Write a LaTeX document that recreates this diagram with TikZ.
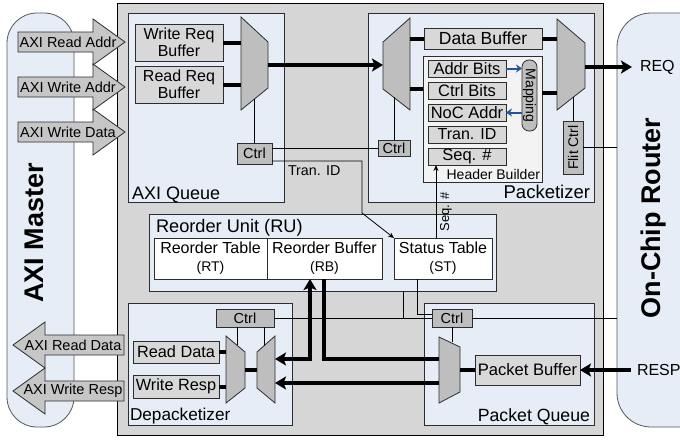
\documentclass[tikz,border=0pt]{standalone}
\usepackage{fontspec}
\setmainfont{Liberation Sans}
\usetikzlibrary{arrows.meta}
\definecolor{panel}{RGB}{230,237,247}
\definecolor{outerg}{RGB}{214,214,214}
\definecolor{boxg}{RGB}{216,216,216}
\definecolor{muxg}{RGB}{190,190,190}
\definecolor{arrg}{RGB}{198,198,198}
\definecolor{edgec}{RGB}{45,45,45}
\definecolor{hbg}{RGB}{243,243,243}
\definecolor{mapblue}{RGB}{35,85,155}
\newcommand\tsz[1]{\fontsize{#1}{#1}\selectfont}
\begin{document}
\begin{tikzpicture}[x=1pt,y=-1pt,
  every node/.style={inner sep=0pt,outer sep=0pt},
  blk/.style={draw=edgec,line width=0.8pt,anchor=north west,align=center},
  panelbox/.style={blk,fill=panel},
  gbox/.style={blk,fill=boxg},
  cbox/.style={blk,fill=muxg},
  wbox/.style={blk,fill=white},
  muxs/.style={draw=edgec,line width=0.8pt,fill=muxg},
  barrow/.style={draw=edgec,line width=0.8pt,fill=arrg},
  wire/.style={draw=black,line width=0.8pt},
  bus/.style={draw=black,line width=4pt},
  bustip/.style={-{Stealth[length=11pt,width=13pt,inset=2.5pt]}},
  busboth/.style={{Stealth[length=11pt,width=13pt,inset=2.5pt]}-{Stealth[length=11pt,width=13pt,inset=2.5pt]}},
  smalltip/.style={-{Stealth[length=6pt,width=5pt]}},
  bluetip/.style={-{Stealth[length=6pt,width=8pt]}}
]
\clip (0,0) rectangle (680,440);
\fill[white] (0,0) rectangle (680,440);

% side blocks
\node[draw=edgec!80,line width=0.8pt,fill=panel,rounded corners=30pt,anchor=north west,minimum width=67pt,minimum height=414pt] (master) at (7,13) {};
\node[draw=edgec!80,line width=0.8pt,fill=panel,rounded corners=34pt,anchor=north west,minimum width=110pt,minimum height=414pt] (router) at (617,13) {};
\node[rotate=90,anchor=base,font=\bfseries\tsz{27}] (mastert) at (43,233) {AXI Master};
\node[rotate=90,anchor=base,font=\bfseries\tsz{27}] (routert) at (660,218) {On-Chip Router};

% main box
\node[draw=black,line width=1pt,fill=outerg,anchor=north west,minimum width=486pt,minimum height=432pt] (main) at (117,3) {};

% panels
\node[panelbox,minimum width=156pt,minimum height=189pt] (aq) at (128,13) {};
\node[panelbox,minimum width=226pt,minimum height=189pt] (pk) at (368,13) {};
\node[panelbox,minimum width=347pt,minimum height=77pt] (ru) at (149,214) {};
\node[panelbox,minimum width=164pt,minimum height=122pt] (dp) at (128,303) {};
\node[panelbox,minimum width=170pt,minimum height=122pt] (pq) at (424,303) {};

\node[font=\tsz{18},anchor=base west] (aqt) at (132,199) {AXI Queue};
\node[font=\tsz{18.5},anchor=base east] (pkt) at (590,198) {Packetizer};
\node[font=\tsz{18.2},anchor=base west] (rut) at (156,232) {Reorder Unit (RU)};
\node[font=\tsz{17.2},anchor=base west] (dpt) at (130,420) {Depacketizer};
\node[font=\tsz{17.7},anchor=base east] (pqt) at (590,421) {Packet Queue};

% block arrows (AXI channels)
\foreach \c/\t/\n in {42/AXI Read Addr/ara, 87/AXI Write Addr/awa, 132/AXI Write Data/awd}{
  \draw[barrow] (18,\c-10) -- (93,\c-10) -- (93,\c-23) -- (125,\c) -- (93,\c+23) -- (93,\c+10) -- (18,\c+10) -- cycle;
  \node[font=\tsz{14.5}] (\n) at (68,\c) {\t};
}
\foreach \c/\t/\n in {345/AXI Read Data/ard, 391/AXI Write Resp/awr}{
  \draw[barrow] (124,\c-10) -- (45,\c-10) -- (45,\c-23) -- (13,\c) -- (45,\c+23) -- (45,\c+10) -- (124,\c+10) -- cycle;
  \node[font=\tsz{14.5}] (\n) at (73,\c) {\t};
}

% AXI Queue
\node[gbox,font=\fontsize{16}{17}\selectfont,minimum width=88pt,minimum height=37pt] (wrb) at (135,24) {Write Req\\Buffer};
\node[gbox,font=\fontsize{16}{17}\selectfont,minimum width=88pt,minimum height=37pt] (rrb) at (135,66) {Read Req\\Buffer};
\node[cbox,font=\tsz{14.5},minimum width=35pt,minimum height=21pt] (aqc) at (237,143) {Ctrl};
\draw[muxs] (241,17) -- (268,42) -- (268,88) -- (241,110) -- cycle;
\coordinate (aqmL) at (241,0);
\coordinate (aqmO) at (268,65);
\coordinate (aqmB) at (254.5,99);
\draw[bus] (wrb.east) -- (wrb.east -| aqmL);
\draw[bus] (rrb.east) -- (rrb.east -| aqmL);
\draw[wire] (aqc.north) -- (aqmB);

% Packetizer
\draw[muxs] (383,42) -- (410,18) -- (410,110) -- (383,89) -- cycle;
\coordinate (pkmI) at (383,65);
\coordinate (pkmR) at (410,0);
\coordinate (pkmB) at (394,97);
\draw[bus,bustip] (aqmO) -- (pkmI);
\node[gbox,font=\tsz{17.5},minimum width=118pt,minimum height=21pt] (db) at (424,28) {Data Buffer};
\node[blk,fill=hbg,minimum width=119pt,minimum height=126pt] (hb) at (423,56) {};
\node[gbox,font=\tsz{16.5},minimum width=78pt,minimum height=17pt] (ab) at (428,60) {Addr Bits};
\node[gbox,font=\tsz{16.5},minimum width=78pt,minimum height=17pt] (cb) at (428,82) {Ctrl Bits};
\node[gbox,font=\tsz{16.5},minimum width=78pt,minimum height=17pt] (na) at (428,104) {NoC Addr};
\node[gbox,font=\tsz{16},minimum width=78pt,minimum height=17pt] (ti) at (428,126) {Tran. ID};
\node[gbox,font=\tsz{16.5},minimum width=78pt,minimum height=17pt] (sq) at (428,148) {Seq. \#};
\node[blk,fill=muxg,rounded corners=7pt,minimum width=15pt,minimum height=71pt] (map) at (522,60) {};
\node[rotate=-90,font=\tsz{14}] (mapt) at (map.center) {Mapping};
\draw[mapblue,line width=2pt,bluetip] (ab.east) -- (ab.east -| map.west);
\draw[mapblue,line width=2pt,bluetip] (na.east -| map.west) -- (na.east);
\node[font=\tsz{14},anchor=base east] (hbt) at (540,179) {Header Builder};
\coordinate (hbL) at (423,89);
\coordinate (hbR) at (542,93);
\draw[bus] (pkmR |- db.west) -- (db.west);
\draw[bus] (pkmR |- hbL) -- (hbL);
\draw[muxs] (557,19) -- (585,43) -- (585,88) -- (557,110) -- cycle;
\coordinate (rmL) at (557,0);
\coordinate (rmO) at (585,67);
\coordinate (rmB) at (573,97.4);
\draw[bus] (db.east) -- (db.east -| rmL);
\draw[bus] (hbR) -- (hbR -| rmL);
\node[font=\tsz{16},anchor=west] (req) at (640,67) {REQ};
\draw[bus,bustip] (rmO) -- ([xshift=-8pt]req.west);
\node[blk,fill=muxg,minimum width=20pt,minimum height=53pt] (fc) at (563,121) {};
\node[rotate=90,font=\tsz{14}] (fct) at (fc.center) {Flit Ctrl};
\draw[wire] (fc.north) -- (rmB);
\draw[wire] (fc.east) -- (fc.east -| router.west);
\node[cbox,font=\tsz{14.5},minimum width=32pt,minimum height=16pt] (pkc) at (378,140) {Ctrl};
\draw[wire] (pkc.north) -- (pkmB);
\draw[wire] (aqc.east |- pkc.west) -- (pkc.west);

% Reorder unit
\node[wbox,font=\fontsize{16}{18}\selectfont,minimum width=113pt,minimum height=41pt] (rt) at (154,238) {Reorder Table\\{\fontsize{14}{18}\selectfont (RT)}};
\node[wbox,font=\fontsize{16}{18}\selectfont,minimum width=115pt,minimum height=41pt] (rb) at (267,238) {Reorder Buffer\\{\fontsize{14}{18}\selectfont (RB)}};
\node[wbox,font=\fontsize{16}{18}\selectfont,minimum width=98pt,minimum height=41pt] (st) at (394,238) {Status Table\\{\fontsize{14}{18}\selectfont (ST)}};

% Tran. ID and Seq. #
\coordinate (tidS) at (272,161);
\coordinate (tidB) at (362,213);
\draw[wire,smalltip] (tidS) -| (tidB) -- (st.north west);
\node[font=\tsz{14.3},anchor=base west] (tidl) at (288,175) {Tran. ID};
\coordinate (sqx) at (436,0);
\draw[wire,smalltip] (st.north -| sqx) -- (sq.south -| sqx);
\node[rotate=90,font=\tsz{13}] (sql) at (446,212) {Seq. \#};

% Depacketizer
\node[cbox,font=\tsz{14.5},minimum width=58pt,minimum height=18pt] (dpc) at (216,309) {Ctrl};
\node[gbox,font=\tsz{16.3},minimum width=86pt,minimum height=22pt] (rd) at (133,341) {Read Data};
\node[gbox,font=\tsz{16.3},minimum width=86pt,minimum height=23pt] (wr) at (133,375) {Write Resp};
\draw[muxs] (226,336) -- (245,352) -- (245,388) -- (226,403) -- cycle;
\draw[muxs] (257,352) -- (275,336) -- (275,403) -- (257,388) -- cycle;
\coordinate (dmL) at (226,0);
\coordinate (dmA) at (245,370);
\coordinate (dmB) at (257,370);
\coordinate (dw1) at (237,345);
\coordinate (dw2) at (264,346);
\coordinate (dmR1) at (275,359);
\coordinate (dmR2) at (275,383);
\draw[bus] (rd.east) -- (rd.east -| dmL);
\draw[bus] (wr.east) -- (wr.east -| dmL);
\draw[bus] (dmA) -- (dmB);
\draw[wire] (dpc.south -| dw1) -- (dw1);
\draw[wire] (dpc.south -| dw2) -- (dw2);

% Packet queue
\node[cbox,font=\tsz{14.5},minimum width=40pt,minimum height=18pt] (pqc) at (432,309) {Ctrl};
\node[gbox,font=\tsz{16.6},minimum width=105pt,minimum height=30pt] (pb) at (475,355) {Packet Buffer};
\draw[muxs] (439,337) -- (460,347) -- (460,392) -- (439,403) -- cycle;
\coordinate (pqmR) at (460,370);
\coordinate (pqmT) at (452,342);
\coordinate (pqmA) at (439,359);
\coordinate (pqmB) at (439,383);
\draw[bus] (pb.west) -- (pqmR);
\node[font=\tsz{16},anchor=west] (resp) at (637,370) {RESP};
\draw[bus,bustip] ([xshift=-6pt]resp.west) -- (pb.east);
\draw[wire] (pqc.south) -- (pqc.south |- pqmT);

% control wires
\draw[wire] (dpc.east) -- (pqc.west);
\draw[wire] (pqc.east) -- (pqc.east -| router.west);
\coordinate (j1) at (403,318);
\coordinate (j2) at (417,314);
\draw[wire] (ru.south -| j1) -- (j1);
\draw[wire] (st.south -| j2) -- (j2) -- (j2 -| pqc.west);

% data buses
\coordinate (rbx1) at (310,0);
\coordinate (rbx2) at (324,0);
\draw[bus] (pqmA) -| (rb.south -| rbx2);
\draw[bus,busboth] (rb.south -| rbx1) |- (dmR1);
\draw[bus,bustip] (pqmB) -- (dmR2);
\end{tikzpicture}
\end{document}
